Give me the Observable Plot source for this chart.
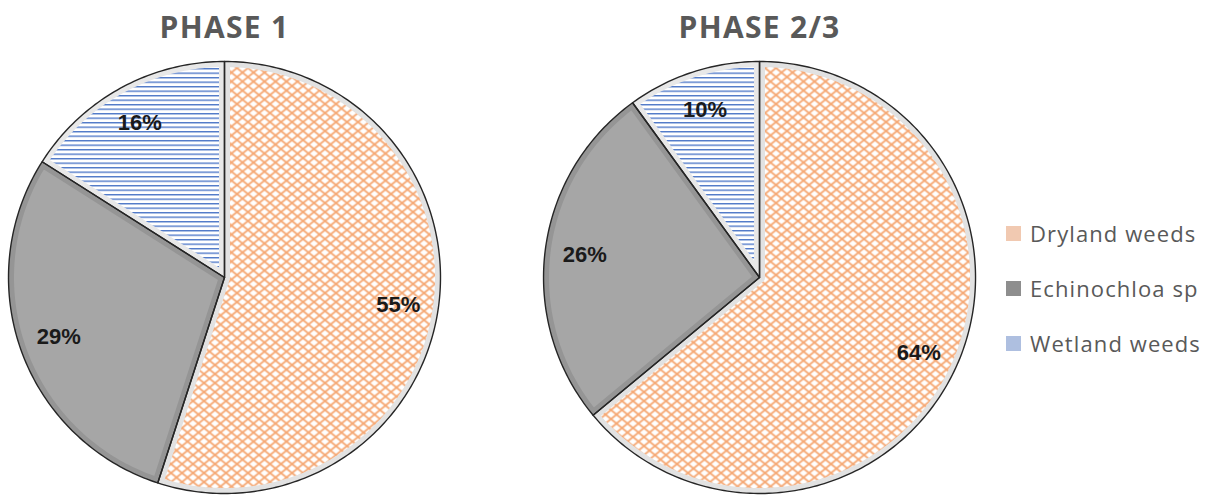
<!DOCTYPE html>
<html>
<head>
<meta charset="utf-8">
<script src="https://cdn.jsdelivr.net/npm/d3@7"></script>
<script src="https://cdn.jsdelivr.net/npm/@observablehq/plot@0.6"></script>
<style>
  html, body { margin: 0; padding: 0; background: #fff; }
  #wrap { position: relative; width: 1216px; height: 498px; }
  #legend { position: absolute; left: 1006px; top: 0; font-family: "Open Sans", sans-serif; font-size: 22px; letter-spacing: 1.1px; color: #595959; }
  .item { position: absolute; left: 0; white-space: nowrap; display: flex; align-items: center; height: 30px; }
  .sw { width: 15px; height: 15px; margin-right: 9px; }
</style>
</head>
<body>
<div id="wrap"><div id="chart"></div><div id="legend"></div></div>
<script>
const phases = ["PHASE 1", "PHASE 2/3"];
const categories = ["Dryland weeds", "Echinochloa sp", "Wetland weeds"];
const phase1Values = [55, 29, 16];
const phase2Values = [64, 26, 10];
const phaseValues = [phase1Values, phase2Values];

const fills = ["url(#cross)", "#a6a6a6", "url(#hlines)"];
const bands = ["#e2e2e2", "#959595", "#e8e8e8"];
const swatches = ["#f1c9b1", "#8e8e8e", "#aebfe0"];

// layout (units of pie radius)
const centers = [0, 2.477];
const labelR = 0.815;

const slices = [];
const labels = [];
phaseValues.forEach((vals, p) => {
  const total = d3.sum(vals);
  let acc = 0;
  vals.forEach((v, i) => {
    const a0 = acc / total * 2 * Math.PI;
    acc += v;
    const a1 = acc / total * 2 * Math.PI;
    const id = p + "-" + i;
    const cx = centers[p];
    slices.push({id, cat: i, x: cx, y: 0});
    const n = Math.max(2, Math.ceil((a1 - a0) / (Math.PI / 180)));
    for (let k = 0; k <= n; k++) {
      const a = a0 + (a1 - a0) * k / n;
      slices.push({id, cat: i, x: cx + Math.sin(a), y: Math.cos(a)});
    }
    slices.push({id, cat: i, x: cx, y: 0});
    const am = (a0 + a1) / 2;
    labels.push({x: cx + labelR * Math.sin(am), y: labelR * Math.cos(am), text: v + "%"});
  });
});

const titles = phases.map((t, p) => ({x: centers[p], y: 1.152, text: t}));

const marks = [];
categories.forEach((c, i) => {
  marks.push(Plot.line(slices.filter(d => d.cat === i), {
    x: "x", y: "y", z: "id", fill: fills[i], stroke: bands[i], strokeWidth: 11
  }));
});
marks.push(Plot.line(slices, {x: "x", y: "y", z: "id", fill: "none", stroke: "#262626", strokeWidth: 1.4}));
marks.push(Plot.text(labels, {x: "x", y: "y", text: "text", fontFamily: "Liberation Sans, Arial, sans-serif", fontWeight: "bold", fontSize: 22, fill: "#1a1a1a"}));
marks.push(Plot.text(titles, {x: "x", y: "y", text: "text", fontFamily: "Open Sans, sans-serif", fontWeight: "bold", fontSize: 30, fill: "#595959"}));

const chart = Plot.plot({
  width: 1216, height: 498, margin: 0,
  x: {domain: [-224 / 216, (1216 - 224) / 216], axis: null},
  y: {domain: [-221 / 216, 277 / 216], axis: null},
  style: {background: "#fff", overflow: "visible"},
  marks
});

// patterns
const svg = d3.select(chart);
svg.selectAll("text").filter(function() { return +d3.select(this.parentNode).attr("font-size") === 30; })
  .attr("letter-spacing", "1.3px");
const defs = svg.insert("defs", ":first-child");
const cross = defs.append("pattern").attr("id", "cross").attr("patternUnits", "userSpaceOnUse")
  .attr("width", 11).attr("height", 9);
cross.append("rect").attr("width", 11).attr("height", 9).attr("fill", "#fff");
cross.append("path").attr("d", "M-5.5,-4.5L16.5,13.5M16.5,-4.5L-5.5,13.5")
  .attr("stroke", "#f5a874").attr("stroke-width", 1.8).attr("fill", "none");
const hl = defs.append("pattern").attr("id", "hlines").attr("patternUnits", "userSpaceOnUse")
  .attr("width", 10).attr("height", 4.5);
hl.append("rect").attr("width", 10).attr("height", 4.5).attr("fill", "#fff");
hl.append("rect").attr("width", 10).attr("height", 1.4).attr("fill", "#5079c8");

// clip band strokes to inside of each slice (first three line groups are the slices)
const lineGroups = chart.querySelectorAll('g[aria-label="line"]');
let cid = 0;
for (let i = 0; i < 3; i++) {
  d3.select(lineGroups[i]).selectAll("path").each(function() {
    const id = "clip" + (cid++);
    defs.append("clipPath").attr("id", id).append("path").attr("d", d3.select(this).attr("d"));
    d3.select(this).attr("clip-path", `url(#${id})`);
  });
}

document.getElementById("chart").appendChild(chart);

const legend = d3.select("#legend");
const tops = [218, 273, 328];
categories.forEach((c, i) => {
  const it = legend.append("div").attr("class", "item").style("top", tops[i] + "px");
  it.append("div").attr("class", "sw").style("background", swatches[i]);
  it.append("span").text(c);
});
</script>
</body>
</html>
